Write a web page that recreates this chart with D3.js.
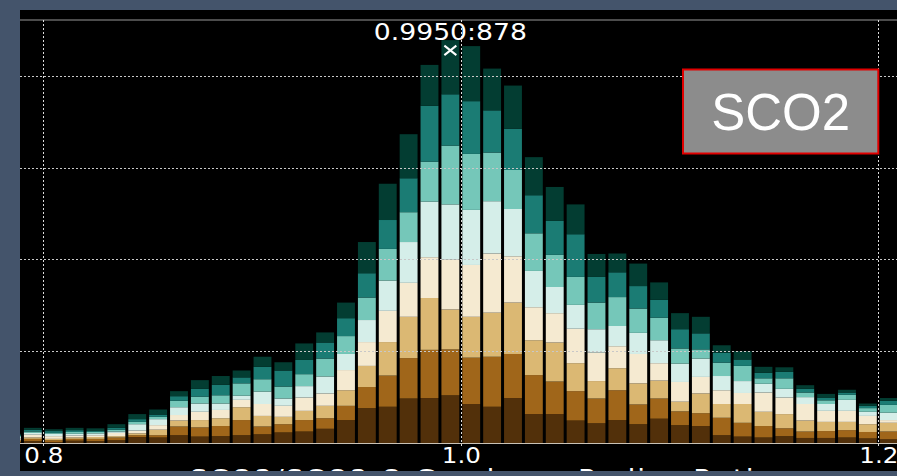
<!DOCTYPE html>
<html>
<head>
<meta charset="utf-8">
<script src="https://cdn.jsdelivr.net/npm/d3@7"></script>
<style>
  html, body { margin: 0; padding: 0; background: #44546b; }
  svg { display: block; }
</style>
</head>
<body>
<svg id="chart" width="897" height="476"></svg>
<script>
// Histogram bin centres (bin width 0.01)
const binCenters = [0.785, 0.795, 0.805, 0.815, 0.825, 0.835, 0.845, 0.855, 0.865, 0.875,
  0.885, 0.895, 0.905, 0.915, 0.925, 0.935, 0.945, 0.955, 0.965, 0.975,
  0.985, 0.995, 1.005, 1.015, 1.025, 1.035, 1.045, 1.055, 1.065, 1.075,
  1.085, 1.095, 1.105, 1.115, 1.125, 1.135, 1.145, 1.155, 1.165, 1.175,
  1.185, 1.195, 1.205];
const binWidth = 0.01;

// Stacked counts per layer, bottom (layer1) to top (layer8)
const layer1 = [2,4,2,5,4,6,13,12,17,14,15,17,19,23,25,31,50,76,79,97,98,104,85,79,98,63,63,49,43,50,41,53,39,37,17,14,12,15,11,11,12,10,8];
const layer2 = [3,5,4,4,5,6,4,5,19,20,22,33,17,18,25,23,31,46,68,88,105,100,101,109,96,85,71,64,54,65,43,44,30,28,38,30,25,17,14,15,16,14,17];
const layer3 = [2,3,3,3,4,3,4,12,13,16,17,28,23,16,20,27,34,46,73,90,113,87,89,96,112,76,85,61,38,48,46,39,21,43,30,41,31,31,24,20,18,17,19];
const layer4 = [3,6,6,4,4,7,6,10,12,18,18,16,26,24,29,27,44,52,68,74,89,109,113,129,101,72,64,75,62,48,64,38,43,36,30,24,42,36,36,24,24,18,6];
const layer5 = [3,4,5,4,4,3,14,13,17,18,14,9,27,16,25,37,35,48,66,89,121,120,120,114,103,79,57,52,51,44,46,50,40,40,31,26,19,19,15,15,24,9,16];
const layer6 = [3,3,2,4,3,4,5,5,14,15,18,27,27,26,26,39,39,49,69,65,87,128,122,106,85,82,70,61,58,63,53,49,33,20,29,33,12,23,10,8,11,8,17];
const layer7 = [2,4,4,4,2,4,6,5,10,17,23,13,27,35,31,35,39,53,63,74,122,112,115,92,90,83,74,93,56,54,49,39,42,35,22,14,12,14,8,6,5,5,9];
const layer8 = [2,4,4,5,6,8,11,11,11,19,19,15,22,18,36,22,34,68,79,96,89,118,120,91,94,83,74,65,50,41,49,38,35,36,16,18,13,10,8,8,6,5,6];

const layers = [layer1, layer2, layer3, layer4, layer5, layer6, layer7, layer8];
const layerColors = ["#52300a", "#a0661a", "#dbb873", "#f5ead1", "#d5eee9", "#75c7b9", "#1b7c74", "#033d32"];

const xTicks = [0.8, 1.0, 1.2];
const yGridTicks = [200, 400, 600, 800];
const xTitle = "SCO2/SCO2 Q Goodness Radius Ratio";
const badgeText = "SCO2";

// ---- layout ----
const frame = { left: 20, top: 10, right: 897, bottom: 471 };
const plotTop = 20, plotBottom = 443;

const svg = d3.select("#chart");

svg.append("defs").append("clipPath").attr("id", "frameClip")
  .append("rect")
  .attr("x", frame.left).attr("y", frame.top)
  .attr("width", frame.right - frame.left).attr("height", frame.bottom - frame.top);

const root = svg.append("g").attr("clip-path", "url(#frameClip)");
root.append("rect")
  .attr("x", frame.left).attr("y", frame.top)
  .attr("width", frame.right - frame.left).attr("height", frame.bottom - frame.top)
  .attr("fill", "#000");

// table of stacked rows
const rows = binCenters.map((c, i) => {
  const r = { center: c };
  layers.forEach((arr, k) => { r["k" + k] = arr[i]; });
  return r;
});
const keys = layers.map((_, k) => "k" + k);
const stacked = d3.stack().keys(keys)(rows);
const totals = rows.map(r => d3.sum(keys, k => r[k]));
const maxTotal = d3.max(totals);
const peakIndex = totals.indexOf(maxTotal);

const x = d3.scaleLinear().domain([0.8, 1.2]).range([43.3, 878.3]);
const y = d3.scaleLinear().domain([0, maxTotal * 1.05]).range([plotBottom, plotTop]);

// bars
const barGap = 1.5;
root.append("g").selectAll("g")
  .data(stacked)
  .join("g")
  .attr("fill", (d, i) => layerColors[i])
  .selectAll("rect")
  .data(d => d)
  .join("rect")
  .attr("x", d => x(d.data.center - binWidth / 2) + barGap)
  .attr("width", d => x(d.data.center + binWidth / 2) - x(d.data.center - binWidth / 2) - 2 * barGap)
  .attr("y", d => y(d[1]))
  .attr("height", d => Math.max(0, y(d[0]) - y(d[1])));

// frame line at top of value range
root.append("line")
  .attr("x1", frame.left).attr("x2", frame.right)
  .attr("y1", plotTop).attr("y2", plotTop)
  .attr("stroke", "#666").attr("stroke-width", 1.5);

// gridlines (drawn over the bars)
root.append("g").selectAll("line")
  .data(yGridTicks)
  .join("line")
  .attr("x1", frame.left).attr("x2", frame.right)
  .attr("y1", d => Math.round(y(d)) + 0.5).attr("y2", d => Math.round(y(d)) + 0.5)
  .attr("stroke", "#c8c8c8").attr("stroke-width", 1)
  .attr("stroke-dasharray", "2,2");

root.append("g").selectAll("line")
  .data(xTicks)
  .join("line")
  .attr("x1", d => Math.round(x(d)) + 0.5).attr("x2", d => Math.round(x(d)) + 0.5)
  .attr("y1", plotTop).attr("y2", plotBottom + 4)
  .attr("stroke", "#dddddd").attr("stroke-width", 1)
  .attr("stroke-dasharray", "2,2");

// x axis
const axis = root.append("g")
  .attr("transform", `translate(0,${plotBottom})`)
  .call(d3.axisBottom(x).tickValues(xTicks).tickFormat(d3.format(".1f")).tickSize(0));
axis.select(".domain").remove();
root.append("line")
  .attr("x1", frame.left).attr("x2", frame.right)
  .attr("y1", plotBottom + 0.5).attr("y2", plotBottom + 0.5)
  .attr("stroke", "#c9c2b6").attr("stroke-width", 1.2);
axis.selectAll(".tick text")
  .attr("y", 20).attr("dy", 0)
  .attr("fill", "#fff")
  .attr("font-family", "DejaVu Sans")
  .attr("font-size", 21)
  .attr("transform", "scale(1.17,1)");

// axis title, sitting on the lower edge of the frame
root.append("text")
  .attr("transform", `translate(482,487) scale(1.17,1)`)
  .attr("text-anchor", "middle")
  .attr("fill", "#fff")
  .attr("font-family", "DejaVu Sans")
  .attr("font-size", 24)
  .attr("letter-spacing", 1.5)
  .text(xTitle);

// peak annotation
const px = x(binCenters[peakIndex]);
const py = y(maxTotal);
root.append("text")
  .attr("transform", `translate(${px},${py}) scale(1.16,1)`)
  .attr("text-anchor", "middle")
  .attr("fill", "#fff")
  .attr("font-family", "DejaVu Sans")
  .attr("font-size", 23)
  .text(`${d3.format(".4f")(binCenters[peakIndex])}:${maxTotal}`);
root.append("path")
  .attr("d", `M${px - 6},${py + 5.5}L${px + 6},${py + 15}M${px + 6},${py + 5.5}L${px - 6},${py + 15}`)
  .attr("stroke", "#fff").attr("stroke-width", 2).attr("fill", "none");

// badge
const badge = root.append("g");
badge.append("rect")
  .attr("x", 683).attr("y", 69.5).attr("width", x(1.2) - 683).attr("height", 84)
  .attr("fill", "#8c8c8c").attr("stroke", "#e00000").attr("stroke-width", 2);
badge.append("text")
  .attr("x", (683 + x(1.2)) / 2).attr("y", 130)
  .attr("text-anchor", "middle")
  .attr("fill", "#fff")
  .attr("font-family", "Liberation Sans, Arial, sans-serif")
  .attr("font-size", 51)
  .text(badgeText);
</script>
</body>
</html>
